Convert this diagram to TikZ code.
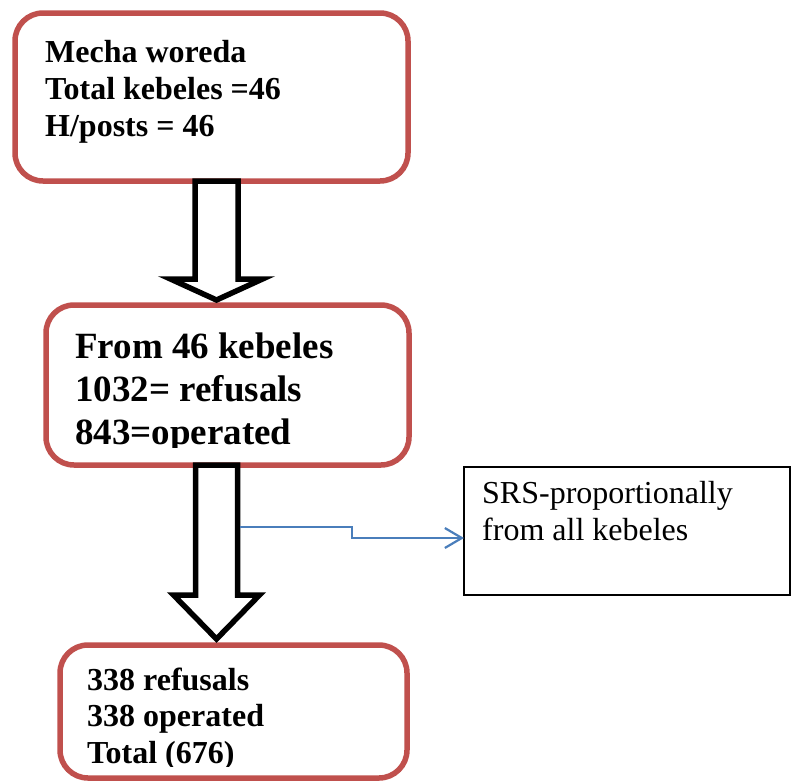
\documentclass[tikz,border=0pt]{standalone}
\usepackage{fontspec}
\setmainfont{Liberation Serif}
\usetikzlibrary{arrows.meta,calc}
\definecolor{boxred}{RGB}{192,80,77}
\definecolor{linkblue}{RGB}{74,126,187}
\tikzset{
	stagebox/.style={draw=boxred, line width=5.5pt, rounded corners=28pt, fill=white, outer sep=0pt, inner sep=0pt},
	srsbox/.style={draw=black, line width=1.3pt, outer sep=0pt, inner sep=0pt},
	boxtext/.style={anchor=base west, inner sep=0pt, font=\fontsize{32}{37}\selectfont\bfseries},
	bigtext/.style={boxtext, font=\fontsize{37}{43}\selectfont\bfseries},
	srstext/.style={anchor=base west, inner sep=0pt, font=\fontsize{32}{37}\selectfont},
	blockarrow/.style={draw=black, fill=white, line width=5.5pt, line join=miter},
	srsline/.style={draw=linkblue, line width=2.2pt, -{Straight Barb[length=17pt,width=20pt]}}
}
% #1 top, #2 tip, #3 head length, #4 half shaft, #5 half head
\newcommand{\downblock}[5]{%
	\draw[blockarrow] ($(#1)+(-#4,0)$)--($(#1)+(#4,0)$)--($(#2)+(#4,-#3)$)--($(#2)+(#5,-#3)$)--(#2)
	--($(#2)+(-#5,-#3)$)--($(#2)+(-#4,-#3)$)--cycle;}
\begin{document}
\begin{tikzpicture}[x=1pt, y=-1pt]
	\useasboundingbox (0,0) rectangle (792,782);
	% boxes
	\node[stagebox, minimum width=393pt, minimum height=168pt] (woreda) at (211.5,97) {};
	\node[stagebox, minimum width=363pt, minimum height=160pt] (kebeles) at (227.5,385) {};
	\node[stagebox, minimum width=347pt, minimum height=133pt] (sample) at (233.5,711.5) {};
	\node[srsbox, minimum width=326pt, minimum height=128pt] (srs) at (627,531) {};
	% texts
	\foreach \txt [count=\i from 0] in {Mecha woreda, Total kebeles =46, H/posts = 46}
		\node[boxtext] (woreda-\i) at ($(woreda.north west)+(30,49+37*\i)$) {\txt};
	\begin{scope}
		\clip (kebeles.north west) rectangle ($(kebeles.south east)+(0,-18)$);
		\foreach \txt [count=\i from 0] in {From 46 kebeles, 1032= refusals, 843=operated}
			\node[bigtext] (kebeles-\i) at ($(kebeles.north west)+(29,53+43*\i)$) {\txt};
	\end{scope}
	\begin{scope}
		\clip (sample.north west) rectangle ($(sample.south east)+(0,-12)$);
		\foreach \txt [count=\i from 0] in {338 refusals, 338 operated, Total (676)}
			\node[boxtext] (sample-\i) at ($(sample.north west)+(27,45+36.5*\i)$) {\txt};
	\end{scope}
	\node[srstext] (srs-0) at ($(srs.north west)+(18,36)$) {SRS-proportionally};
	\node[srstext] (srs-1) at ($(srs.north west)+(18,73)$) {from all kebeles};
	% block arrows
	\coordinate (shaft) at (216.5,0);
	\coordinate (a1top) at (woreda.south -| shaft);
	\coordinate (a1tip) at ($(kebeles.north -| shaft)+(0,-5)$);
	\coordinate (a2top) at (kebeles.south -| shaft);
	\coordinate (a2tip) at ($(sample.north -| shaft)+(0,-6)$);
	\downblock{a1top}{a1tip}{21}{21.5}{46}
	\downblock{a2top}{a2tip}{44}{21}{43}
	% link to sampling box
	\coordinate (tap) at ($(a2top)+(23.5,62)$);
	\coordinate (bend) at (352,538);
	\draw[srsline] (tap) -| (bend) -- (bend -| srs.west);
\end{tikzpicture}
\end{document}
